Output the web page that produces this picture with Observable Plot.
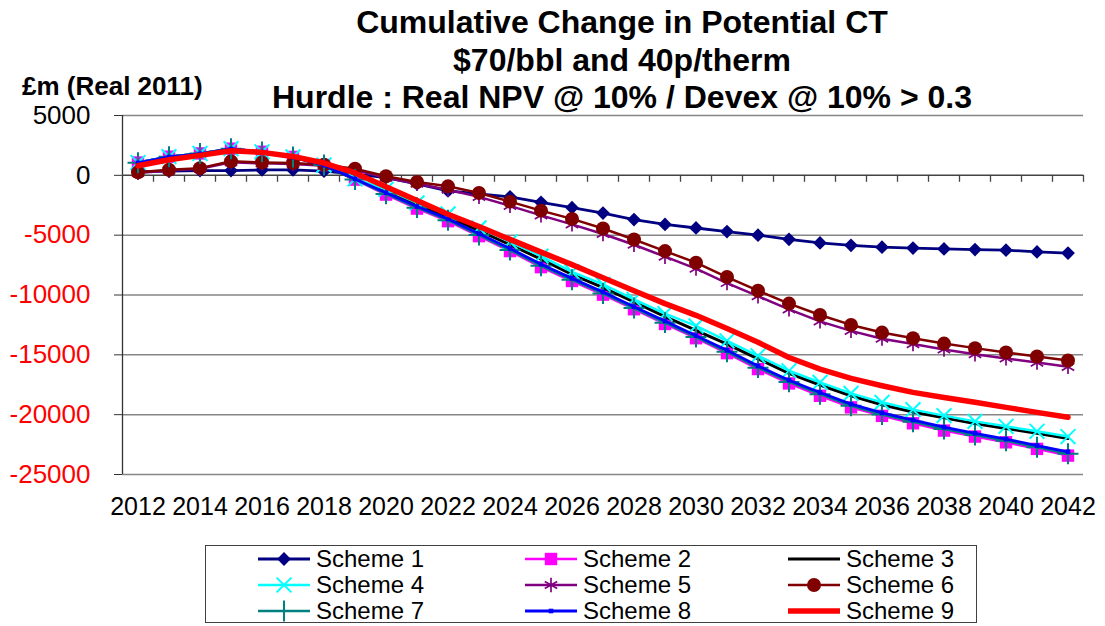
<!DOCTYPE html>
<html><head><meta charset="utf-8">
<script src="https://cdn.jsdelivr.net/npm/d3@7"></script>
<script src="https://cdn.jsdelivr.net/npm/@observablehq/plot@0.6"></script>
<style>
html,body{margin:0;padding:0;background:#fff;overflow:hidden;}
#wrap{position:relative;width:1105px;height:626px;font-family:"Liberation Sans",Arial,sans-serif;color:#000;}
#title{position:absolute;left:222px;top:4px;width:800px;text-align:center;font-weight:bold;font-size:32px;line-height:37.5px;white-space:nowrap;}
#ylab{position:absolute;left:22px;top:74px;font-weight:bold;font-size:26px;line-height:24px;white-space:nowrap;}
#legend{position:absolute;left:205px;top:545px;width:770px;height:76px;border:1.5px solid #404040;}
.li{position:absolute;height:26px;display:flex;align-items:center;font-size:24px;white-space:nowrap;}
.li svg{margin-right:4px;}
#chart{position:absolute;left:0;top:0;}
</style></head>
<body><div id="wrap"><div id="chart"></div>
<div id="title">Cumulative Change in Potential CT<br>$70/bbl and 40p/therm<br>Hurdle : Real NPV @ 10% / Devex @ 10% &gt; 0.3</div>
<div id="ylab">£m (Real 2011)</div>
<div id="legend"></div>
</div>
<script>
const years = [2012,2013,2014,2015,2016,2017,2018,2019,2020,2021,2022,2023,2024,2025,2026,2027,2028,2029,2030,2031,2032,2033,2034,2035,2036,2037,2038,2039,2040,2041,2042];
const xLabels = [2012,2014,2016,2018,2020,2022,2024,2026,2028,2030,2032,2034,2036,2038,2040,2042];
const yTicks = [5000,0,-5000,-10000,-15000,-20000,-25000];
const seriesNames = ["Scheme 1","Scheme 2","Scheme 3","Scheme 4","Scheme 5","Scheme 6","Scheme 7","Scheme 8","Scheme 9"];

const scheme1 = [300,350,400,400,450,450,350,100,-200,-720,-1300,-1550,-1800,-2250,-2700,-3150,-3700,-4100,-4400,-4700,-5000,-5350,-5650,-5850,-6000,-6080,-6150,-6200,-6250,-6400,-6500];
const scheme2 = [1070,1560,1830,2230,1970,1540,860,-360,-1610,-2780,-3830,-5080,-6330,-7670,-8830,-9970,-11190,-12420,-13610,-14860,-16190,-17390,-18420,-19390,-20100,-20720,-21330,-21830,-22310,-22860,-23420];
const scheme3 = [1050,1540,1800,2200,1950,1520,850,-330,-1300,-2450,-3450,-4620,-5800,-7000,-8280,-9380,-10580,-11800,-12950,-14100,-15330,-16550,-17520,-18420,-19170,-19770,-20270,-20750,-21150,-21560,-22000];
const scheme4 = [1070,1560,1830,2230,1970,1540,860,-300,-1170,-2310,-3220,-4390,-5560,-6750,-8060,-9110,-10360,-11560,-12580,-13830,-15080,-16330,-17300,-18220,-18970,-19580,-20080,-20560,-20970,-21390,-21830];
const scheme5 = [200,400,550,1100,1000,950,800,450,-200,-700,-1200,-1800,-2550,-3350,-4100,-4900,-5800,-6800,-7800,-9000,-10100,-11200,-12200,-13000,-13650,-14100,-14550,-14950,-15300,-15650,-16000];
const scheme6 = [250,470,600,1170,1080,1030,890,560,-80,-560,-920,-1470,-2200,-2950,-3640,-4440,-5360,-6330,-7300,-8500,-9640,-10720,-11670,-12500,-13140,-13610,-14060,-14440,-14810,-15140,-15470];
const scheme7 = [1060,1550,1820,2220,1960,1530,860,-340,-1550,-2700,-3750,-4990,-6240,-7560,-8730,-9870,-11090,-12310,-13510,-14750,-16070,-17260,-18290,-19260,-19990,-20600,-21200,-21700,-22180,-22730,-23270];
const scheme8 = [1050,1540,1800,2200,1950,1520,850,-300,-1450,-2600,-3640,-4880,-6110,-7430,-8610,-9750,-10980,-12180,-13400,-14620,-15930,-17120,-18150,-19120,-19850,-20450,-21050,-21560,-22040,-22580,-23100];
const scheme9 = [800,1300,1670,2060,1920,1580,1030,200,-950,-2110,-3250,-4280,-5350,-6420,-7460,-8560,-9640,-10720,-11700,-12800,-13950,-15220,-16190,-16970,-17580,-18140,-18560,-18970,-19390,-19810,-20220];

const allValues = [scheme1,scheme2,scheme3,scheme4,scheme5,scheme6,scheme7,scheme8,scheme9];

// styles (kept separate from data)
const styles = [
  {color:"#000080", width:2.8, symbol:"diamond2", r:6.2, fill:true},
  {color:"#FF00FF", width:2.5, symbol:"square", r:7, fill:true},
  {color:"#000000", width:3, symbol:null},
  {color:"#00FFFF", width:2.5, symbol:"times", r:6.8, fill:false, sw:2},
  {color:"#800080", width:2.5, symbol:"asterisk", r:6.8, fill:false, sw:1.7},
  {color:"#800000", width:2.5, symbol:"circle", r:7, fill:true},
  {color:"#008080", width:2.5, symbol:"plus", r:6.8, fill:false, sw:2},
  {color:"#0000FF", width:2.8, symbol:"square", r:2.6, fill:true},
  {color:"#FF0000", width:5.5, symbol:null}
];

const yDomain = [d3.min(yTicks), d3.max(yTicks)];
const xDomain = [years[0]-0.5, years[years.length-1]+0.5];
const boundaries = years.map(y => y - 0.5).concat([years[years.length-1]+0.5]);

const marks = [
  Plot.ruleY(yTicks.filter(d => d !== 0), {stroke:"#868686", strokeWidth:1.5}),
  Plot.ruleX([xDomain[0]], {y1:yDomain[0], y2:yDomain[1], stroke:"#333", strokeWidth:1.3}),
  Plot.ruleY([0], {stroke:"#444", strokeWidth:1.5}),
  Plot.ruleX(boundaries.slice(1), {y1:0, y2:-580, stroke:"#444", strokeWidth:1.3}),
  Plot.axisY(yTicks, {tickSize:8, tickPadding:24, stroke:"#333", tickFormat:d => String(d), fontSize:26, fill:d => d < 0 ? "#FF0000" : "#000000", label:null}),
  Plot.axisX(xLabels, {tickSize:0, tickPadding:23, tickFormat:d => String(d), fontSize:25, label:null})
];

allValues.forEach((vals, k) => {
  const st = styles[k];
  const data = years.map((yr, i) => ({year: yr, value: vals[i], series: seriesNames[k]}));
  marks.push(Plot.line(data, {x:"year", y:"value", stroke:st.color, strokeWidth:st.width, strokeLinejoin:"round", strokeLinecap:"round"}));
  if (st.symbol) {
    marks.push(Plot.dot(data, st.fill
      ? {x:"year", y:"value", symbol:st.symbol, r:st.r, fill:st.color, stroke:"none"}
      : {x:"year", y:"value", symbol:st.symbol, r:st.r, fill:"none", stroke:st.color, strokeWidth:st.sw}));
  }
});

const chart = Plot.plot({
  width:1105, height:626,
  marginTop:115, marginBottom:152, marginLeft:122, marginRight:22,
  x:{domain:xDomain},
  y:{domain:yDomain},
  style:{fontFamily:'"Liberation Sans", Arial, sans-serif', fontSize:"25px", background:"transparent", color:"#000"},
  marks
});
document.getElementById("chart").appendChild(chart);

// legend
const legend = document.getElementById("legend");
const colX = [50, 317, 580];
const rowY = [0, 26, 52];
seriesNames.forEach((name, k) => {
  const st = styles[k];
  const div = document.createElement("div");
  div.className = "li";
  div.style.left = colX[k % 3] + "px";
  div.style.top = rowY[Math.floor(k / 3)] + "px";
  const svg = d3.create("svg").attr("width", 56).attr("height", 22);
  svg.append("line").attr("x1", 2).attr("x2", 54).attr("y1", 11).attr("y2", 11)
    .attr("stroke", st.color).attr("stroke-width", st.width);
  if (st.symbol) {
    const symMap = {diamond2:d3.symbolDiamond2, square:d3.symbolSquare, times:d3.symbolTimes, asterisk:d3.symbolAsterisk, circle:d3.symbolCircle, plus:d3.symbolPlus};
    const p = svg.append("path").attr("transform", "translate(28,11)")
      .attr("d", d3.symbol(symMap[st.symbol], Math.PI * st.r * st.r)());
    if (st.fill) p.attr("fill", st.color); else p.attr("fill", "none").attr("stroke", st.color).attr("stroke-width", st.sw);
  }
  div.appendChild(svg.node());
  const span = document.createElement("span");
  span.textContent = name;
  div.appendChild(span);
  legend.appendChild(div);
});
</script>
</body></html>
